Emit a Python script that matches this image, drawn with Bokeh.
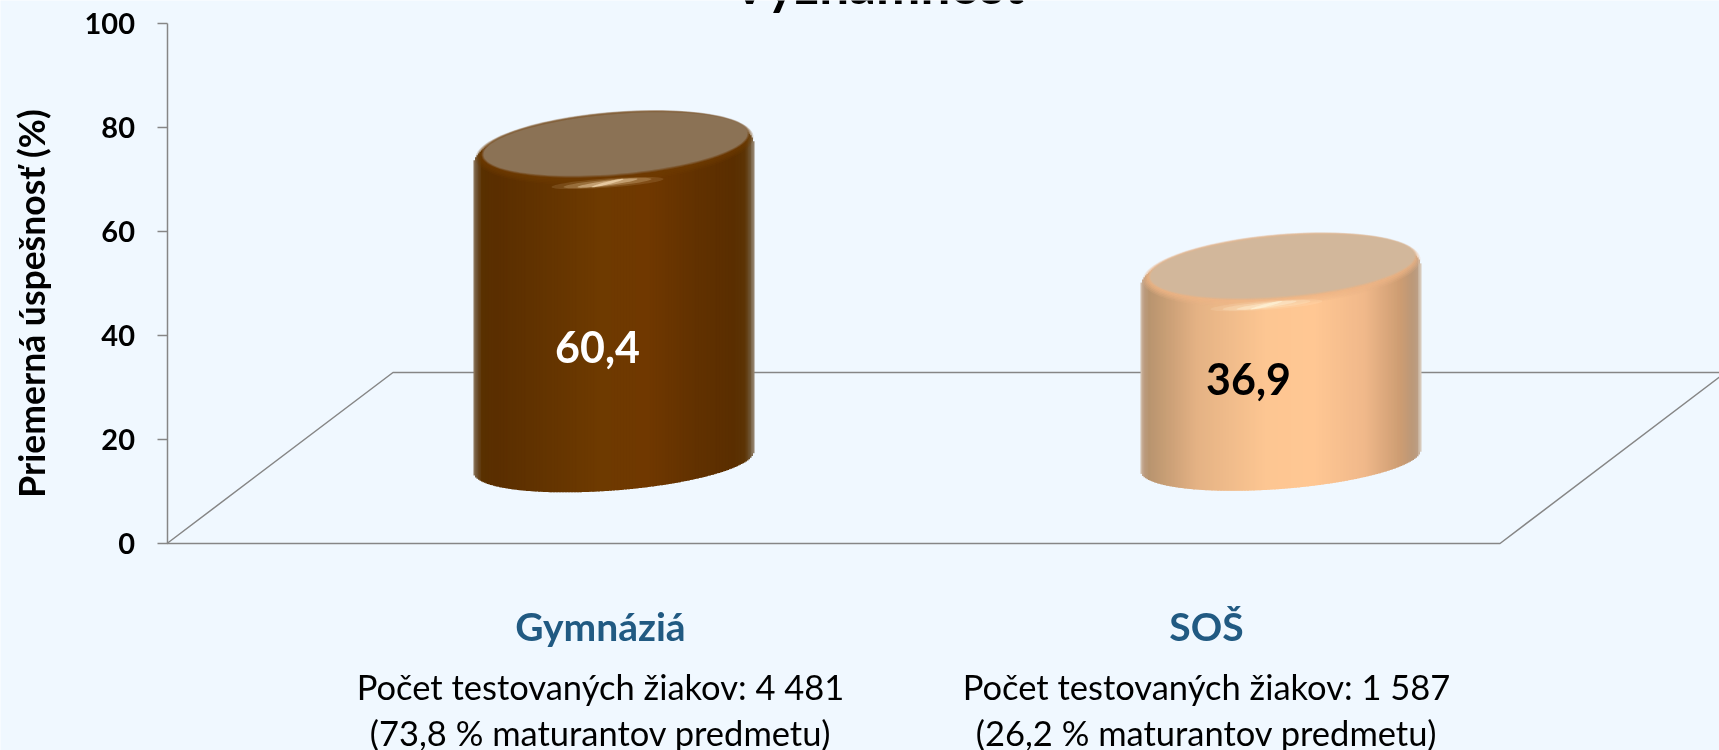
import numpy as np
from bokeh.plotting import figure
from bokeh.models import Range1d, LinearAxis, FixedTicker
from bokeh.core.properties import value
from bokeh.embed import file_html
from bokeh.resources import INLINE

# ---- data ----
categories = ["Gymnáziá", "SOŠ"]
scores = [60.4, 36.9]
score_labels = ["60,4", "36,9"]
student_lines = ["Počet testovaných žiakov: 4 481", "Počet testovaných žiakov: 1 587"]
share_lines = ["(73,8 % maturantov predmetu)", "(26,2 % maturantov predmetu)"]
y_ticks = [0, 20, 40, 60, 80, 100]
title_text = "Významnosť"
y_title = "Priemerná úspešnosť (%)"

# ---- style / layout ----
BG = "#F0F8FF"
GREY = "#868686"
FONT = "Lato"
W, H = 1719, 750
AXIS_PX, Y0_PX, Y100_PX = 166.5, 543, 23
PX = (Y0_PX - Y100_PX) / 100           # pixels per value unit
def yd(px):                            # layout helper: page pixel row -> value scale
    return (Y0_PX - px) / PX

centers = [613, 1280]
label_x = [600, 1206]
value_label_x = [597, 1248]
value_label_row = [346, 378]
value_colors = ["#FFFFFF", "#000000"]
HALF_W = 140
base_row = [461.5, 460]
TOP_OFFSET = 14.5                      # 3D floor offset of a bar's top relative to the axis
SHEAR, OUT_B, IN_B, BOT_B = 10.5, 39.6, 30, 28.5
IN_A, IN_DY = 132, 10
grad_pos = [0, .012, .03, .08, .2, .45, .62, .8, .93, .97, .988, 1]
grad = [
    ["#8E7A60", "#6E5232", "#593000", "#5A2E00", "#603200", "#6E3A00", "#703800", "#613100", "#5A2E00", "#5C3405", "#6E5433", "#94836E"],
    ["#D5C4B4", "#BC9C80", "#B8946F", "#C59C74", "#E4B284", "#FDC692", "#FFC793", "#F0B88A", "#CC9C72", "#BC9878", "#BB9C82", "#D8CBBD"],
]
top_fill = ["#8B7255", "#D2B79B"]
bevel = ["#6E3A00", "#EDB586"]
highlight = ["#FFE6C0", "#FFF6DC"]
hl_dx = [-6, -14]

def rgb(h):
    return np.array([int(h[i:i + 2], 16) for i in (1, 3, 5)], float)

def mix(stops, t):
    arr = np.array([rgb(c) for c in stops])
    return "#%02x%02x%02x" % tuple(int(round(np.interp(t, grad_pos, arr[:, k]))) for k in range(3))

def ellipse(cx, cy_px, a, b, s, n=120):
    t = np.linspace(0, 2 * np.pi, n)
    return cx + a * np.cos(t), yd(cy_px + b * np.sin(t) - s * np.cos(t))

p = figure(width=W, height=H, output_backend="svg", toolbar_location=None,
           x_range=Range1d(0, W), y_range=Range1d(yd(H), yd(0)),
           x_axis_type=None, y_axis_type=None,
           min_border_left=0, min_border_right=0, min_border_top=0, min_border_bottom=0,
           background_fill_color=BG, border_fill_color=BG, outline_line_color=None)
p.styles = {"position": "fixed", "left": "0", "top": "0"}
p.xgrid.visible = False
p.ygrid.visible = False

ax = LinearAxis(ticker=FixedTicker(ticks=y_ticks), bounds=(0, 100), fixed_location=AXIS_PX)
ax.axis_line_color = GREY
ax.axis_line_width = 1.5
ax.major_tick_line_color = GREY
ax.major_tick_line_width = 1.5
ax.major_tick_out = 10
ax.major_tick_in = 0
ax.minor_tick_line_color = None
ax.major_label_text_font = FONT
ax.major_label_text_font_style = "bold"
ax.major_label_text_font_size = "29px"
ax.major_label_text_color = "#000000"
ax.major_label_standoff = 22
p.add_layout(ax, "left")

# floor of the 3D chart
p.line([AXIS_PX, 392.5, 1725], [0, yd(372), yd(372)], line_color=GREY, line_width=1.5)
p.line([AXIS_PX, 1499.5, 1725], [0, 0, yd(372)], line_color=GREY, line_width=1.5)

# cylinders
for i, (cx, v) in enumerate(zip(centers, scores)):
    top = v + TOP_OFFSET
    top_px = Y0_PX - top * PX
    bot_px = base_row[i]
    edges = np.arange(-HALF_W, HALF_W, 1.5)
    xs, ys, cols = [], [], []
    for e in edges:
        m = e + 0.75
        u = np.clip(m / HALF_W, -1, 1)
        root = np.sqrt(1 - u * u)
        upper = top_px - SHEAR * u - OUT_B * root
        lower = bot_px - SHEAR * u + BOT_B * root
        xs.append([cx + e, cx + e + 2, cx + e + 2, cx + e])
        ys.append([yd(upper), yd(upper), yd(lower), yd(lower)])
        cols.append(mix(grad[i], (m + HALF_W) / (2 * HALF_W)))
    p.patches(xs, ys, fill_color=cols, line_color=None)
    # bevel under the lid
    for k, alpha in enumerate([.2, .25, .3, .4, .5, .7]):
        f = k / 5
        ex, ey = ellipse(cx + 1, top_px - 3 * f - 6.5, HALF_W - 1 - f * (HALF_W - IN_A - 1),
                         36 - f * (36 - IN_B - 1), SHEAR)
        p.patch(ex, ey, fill_color=bevel[i], fill_alpha=alpha, line_color=None)
    # highlight on the rim
    hx = cx + hl_dx[i]
    hy = top_px + 29
    for a, b, alpha in [(56, 4.6, .12), (44, 3.4, .22), (30, 2.3, .4), (16, 1.4, .6)]:
        ex, ey = ellipse(hx, hy, a, b, 4, n=60)
        p.patch(ex, ey, fill_color=highlight[i], fill_alpha=alpha, line_color=None)
    # lid, with a soft edge
    for grow, alpha in [(2.0, .3), (1.0, .5), (0.0, 1.0)]:
        ex, ey = ellipse(cx + 2, top_px - IN_DY, IN_A + grow, IN_B + grow, SHEAR)
        p.patch(ex, ey, fill_color=top_fill[i], fill_alpha=alpha, line_color=None)

def txt(x, y, s, size, color="#000000", bold=False, baseline="middle", angle=0.0, y_offset=0):
    p.text([x], [y], text=[s], text_font=value(FONT), text_font_size=value(size),
           text_color=color, text_align="center", text_baseline=baseline, angle=angle,
           y_offset=y_offset, text_font_style="bold" if bold else "normal")

for i in range(2):
    txt(value_label_x[i], yd(value_label_row[i]), score_labels[i], "43px", value_colors[i], True)
    txt(label_x[i], yd(625), categories[i], "39px", "#215A82", True)
    txt(label_x[i], yd(686), student_lines[i], "34.5px")
    txt(label_x[i], yd(732), share_lines[i], "34.5px")

txt(877, yd(3), title_text, "53px", bold=True, baseline="alphabetic", y_offset=-20)
txt(31, yd(303), y_title, "35.5px", bold=True, angle=np.pi / 2)

open("out.html", "w").write(file_html(p, INLINE))
